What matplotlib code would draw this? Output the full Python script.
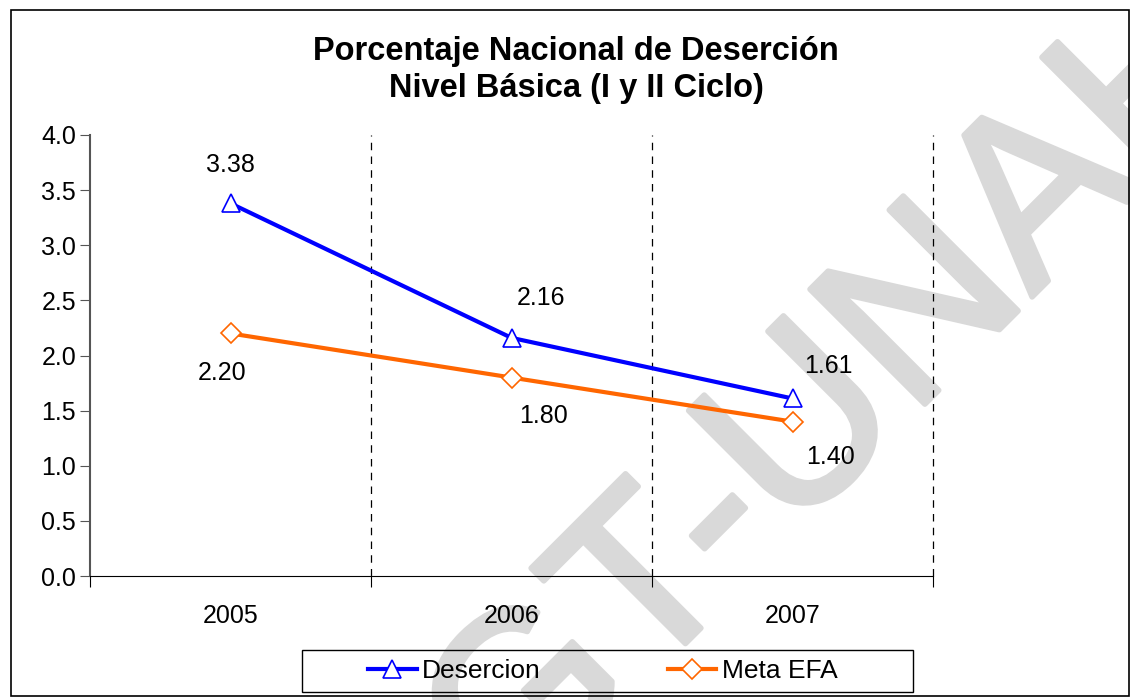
import matplotlib
matplotlib.use("Agg")
import matplotlib.pyplot as plt
import matplotlib.patheffects as pe
from matplotlib.patches import Rectangle
from matplotlib.lines import Line2D

plt.rcParams['font.family'] = ['Liberation Sans', 'DejaVu Sans']

# data
years = ['2005', '2006', '2007']
desercion = [3.38, 2.16, 1.61]
meta_efa = [2.20, 1.80, 1.40]
yticks = [0.0, 0.5, 1.0, 1.5, 2.0, 2.5, 3.0, 3.5, 4.0]

W, H = 1130, 700
fig = plt.figure(figsize=(W / 100, H / 100), dpi=100)
ax = fig.add_axes([90 / W, 1 - 576 / H, (933 - 90) / W, (576 - 135) / H])
ax.patch.set_alpha(0)

# outer chart frame
fig.patches.append(Rectangle((11 / W, 4 / H), (1129 - 11) / W, 686 / H,
                             transform=fig.transFigure, fill=False,
                             edgecolor='black', lw=1.2, zorder=0))

x = list(range(len(years)))
ax.plot(x, desercion, color='#0000ff', lw=3, marker='^', ms=13,
        mfc='white', mec='#0000ff', mew=1.2, label='Desercion', zorder=3)
ax.plot(x, meta_efa, color='#ff6600', lw=3, marker='D', ms=10,
        mfc='white', mec='#ff6600', mew=1.2, label='Meta EFA', zorder=3)

# data labels
d_off = [(0, 38), (30, 40), (36, 32)]
m_off = [(-8, -40), (32, -38), (38, -35)]
for i in x:
    ax.annotate(f'{desercion[i]:.2f}', (i, desercion[i]), xytext=d_off[i],
                textcoords='offset pixels', ha='center', va='center', fontsize=18)
    ax.annotate(f'{meta_efa[i]:.2f}', (i, meta_efa[i]), xytext=m_off[i],
                textcoords='offset pixels', ha='center', va='center', fontsize=18)

ax.set_xlim(-0.5, 2.5)
ax.set_ylim(0, 4.0)
ax.set_yticks(yticks)
ax.set_yticklabels([f'{v:.1f}' for v in yticks], fontsize=18)
ax.set_xticks([-0.5, 0.5, 1.5, 2.5])
ax.set_xticklabels([])
ax.set_xticks(x, minor=True)
ax.set_xticklabels(years, minor=True, fontsize=18)
ax.tick_params(axis='x', which='minor', length=0, pad=20)
ax.tick_params(axis='x', which='major', length=8, direction='out', color='black')
ax.tick_params(axis='y', length=7, direction='out', color='#555555', pad=3)
for xv in [0.5, 1.5, 2.5]:
    ax.axvline(xv, color='black', lw=0.9, ls=(0, (6, 5)), zorder=1, clip_on=False)
ax.spines['top'].set_visible(False)
ax.spines['right'].set_visible(False)
ax.spines['left'].set_color('#555555')
ax.spines['left'].set_linewidth(1.5)
ax.spines['bottom'].set_color('black')

fig.text(576 / W, 1 - 70 / H, 'Porcentaje Nacional de Deserción\nNivel Básica (I y II Ciclo)',
         ha='center', va='center', fontsize=23.5, fontweight='bold', linespacing=1.25)

# legend box (Excel style, entries not centred in the box)
fig.patches.append(Rectangle((302 / W, 1 - 692 / H), (913 - 302) / W, 42 / H,
                             transform=fig.transFigure, fill=False,
                             edgecolor='black', lw=1.0, zorder=2))
handles = [Line2D([], [], color='#0000ff', lw=3, marker='^', ms=13, mfc='white',
                  mec='#0000ff', mew=1.2),
           Line2D([], [], color='#ff6600', lw=3, marker='D', ms=10, mfc='white',
                  mec='#ff6600', mew=1.2)]
fig.legend(handles, ['Desercion', 'Meta EFA'], loc='center left',
           bbox_to_anchor=(368 / W, 1 - 671 / H), ncol=2, fontsize=19,
           frameon=False, columnspacing=4.8, handlelength=1.85,
           handletextpad=0.2, borderpad=0, borderaxespad=0)

# watermark behind the plot, light grey with rounded thick strokes
fig.text(888 / W, 1 - 441 / H, 'GT-UNAH', fontsize=170, color='#d9d9d9',
         rotation=45, rotation_mode='anchor', ha='center', va='baseline', zorder=-1,
         path_effects=[pe.withStroke(linewidth=4, foreground='#d9d9d9',
                                     capstyle='round', joinstyle='round')])

fig.savefig('out.png', dpi=100)
